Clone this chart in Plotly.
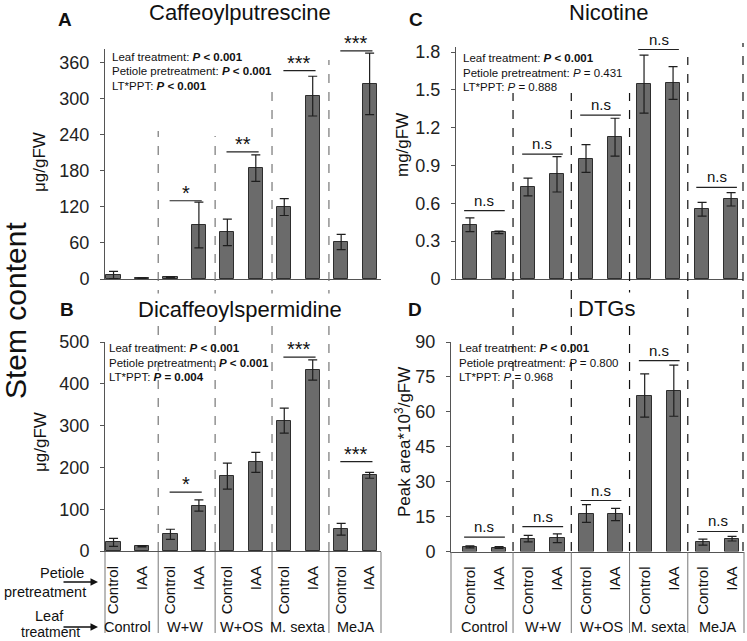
import plotly.graph_objects as go

# groups and bar labels
leaf_treatments = ["Control", "W+W", "W+OS", "M. sexta", "MeJA"]
petiole_pretreatments = ["Control", "IAA"]

# Caffeoylputrescine (ug/gFW)
caff_mean = [6.6, 1.5, 3, 89.6, 77.4, 184, 119.5, 303.7, 61.4, 324]
caff_err = [6, 0.5, 1, 38, 22, 22, 14, 33, 12.7, 51]
caff_sig = ["", "*", "**", "***", "***"]
caff_sig_y = [None, 130, 211, 346, 379]

# Dicaffeoylspermidine (ug/gFW)
dcs_mean = [20.8, 11.2, 40, 108.8, 179, 212, 312, 433, 52, 181]
dcs_err = [9.6, 1.5, 12, 13.6, 31, 24, 30, 24, 14, 7]
dcs_sig = ["", "*", "", "***", "***"]
dcs_sig_y = [None, 141, None, 464, 214]

# Nicotine (mg/gFW)
nic_mean = [0.43, 0.37, 0.73, 0.83, 0.955, 1.125, 1.545, 1.555, 0.553, 0.632]
nic_err = [0.055, 0.01, 0.07, 0.14, 0.11, 0.15, 0.23, 0.13, 0.055, 0.053]
nic_sig = ["n.s"] * 5
nic_sig_y = [0.543, 0.99, 1.30, 1.82, 0.727]

# DTGs (peak area*10^3/gFW)
dtg_mean = [2.0, 1.7, 5.5, 5.7, 16.3, 15.9, 67, 69.1, 4.0, 5.5]
dtg_err = [0.4, 0.4, 1.4, 1.9, 3.8, 2.6, 9.3, 11, 1.3, 1.0]
dtg_sig = ["n.s"] * 5
dtg_sig_y = [6.2, 10.7, 21.9, 82, 8.6]

# two-way ANOVA results
caff_stats = ["<b><i>P</i> &lt; 0.001</b>", "<b><i>P</i> &lt; 0.001</b>", "<b><i>P</i> &lt; 0.001</b>"]
dcs_stats = ["<b><i>P</i> &lt; 0.001</b>", "<b><i>P</i> &lt; 0.001</b>", "<b><i>P</i> = 0.004</b>"]
nic_stats = ["<b><i>P</i> &lt; 0.001</b>", "<i>P</i> = 0.431", "<i>P</i> = 0.888"]
dtg_stats = ["<b><i>P</i> &lt; 0.001</b>", "<i>P</i> = 0.800", "<i>P</i> = 0.968"]
stat_names = ["Leaf treatment: ", "Petiole pretreatment: ", "LT*PPT: "]

W, H = 747, 641
FONT = "Arial, Liberation Sans, sans-serif"


def fx(p):
    return p / W


def fy(p):
    return 1 - p / H


def label(x, y, text, size, **kw):
    # paper-positioned text, pixel coords from top-left
    opts = dict(xanchor="center", yanchor="middle", showarrow=False)
    opts.update(kw)
    fig.add_annotation(x=fx(x), y=fy(y), xref="paper", yref="paper", text=text,
                       font=dict(size=size, color="#111"), **opts)


xpos = list(range(len(leaf_treatments) * 2))
ticktext = petiole_pretreatments * len(leaf_treatments)
group_mid = [2 * g + 0.5 for g in range(len(leaf_treatments))]

fig = go.Figure()

panels = [
    dict(ax="", letter="A", title="Caffeoylputrescine", ytitle="μg/gFW",
         mean=caff_mean, err=caff_err, sig=caff_sig, sig_y=caff_sig_y, stats=caff_stats,
         letter_xy=(65, 20), title_xy=(240, 13), ytitle_xy=(40, 162), stats_xy=(110, 57),
         sig_size=20, sig_off=(-0.03, 0.1)),
    dict(ax="2", letter="B", title="Dicaffeoylspermidine", ytitle="μg/gFW",
         mean=dcs_mean, err=dcs_err, sig=dcs_sig, sig_y=dcs_sig_y, stats=dcs_stats,
         letter_xy=(67, 310), title_xy=(240, 310), ytitle_xy=(40, 442), stats_xy=(107, 348),
         sig_size=20, sig_off=(-0.03, 0.1)),
    dict(ax="3", letter="C", title="Nicotine", ytitle="mg/gFW",
         mean=nic_mean, err=nic_err, sig=nic_sig, sig_y=nic_sig_y, stats=nic_stats,
         letter_xy=(416, 20), title_xy=(608, 13), ytitle_xy=(403, 145), stats_xy=(461, 58),
         sig_size=15, sig_off=(-0.2, 0.2)),
    dict(ax="4", letter="D", title="DTGs", ytitle="Peak area*10<sup>3</sup>/gFW",
         mean=dtg_mean, err=dtg_err, sig=dtg_sig, sig_y=dtg_sig_y, stats=dtg_stats,
         letter_xy=(415, 310), title_xy=(606, 308), ytitle_xy=(403, 442), stats_xy=(457, 348),
         sig_size=15, sig_off=(-0.2, 0.2)),
]

for p in panels:
    xa, ya = "x" + p["ax"], "y" + p["ax"]
    fig.add_trace(go.Bar(
        x=xpos, y=p["mean"], xaxis=xa, yaxis=ya, width=0.5,
        marker=dict(color="#6b6b6b", line=dict(color="#2e2e2e", width=1)),
        error_y=dict(type="data", array=p["err"], color="#1e1e1e", thickness=1.2, width=4.5),
        showlegend=False, hoverinfo="y",
    ))
    # significance bars
    lx, ly = [], []
    for g, (s, lvl) in enumerate(zip(p["sig"], p["sig_y"])):
        if not s:
            continue
        lx += [2 * g + p["sig_off"][0], 2 * g + 1 + p["sig_off"][1], None]
        ly += [lvl, lvl, None]
        fig.add_annotation(x=group_mid[g] + (p["sig_off"][0] + p["sig_off"][1]) / 2, y=lvl,
                           xref=xa, yref=ya, text=s, showarrow=False, xanchor="center",
                           yanchor="bottom", yshift=-5 if "*" in s else 0,
                           font=dict(size=p["sig_size"], color="#111"))
    fig.add_trace(go.Scatter(x=lx, y=ly, xaxis=xa, yaxis=ya, mode="lines",
                             line=dict(color="#222", width=1.2), cliponaxis=False,
                             showlegend=False, hoverinfo="skip"))
    # text (titles sit on white so the dividers break around them)
    label(*p["letter_xy"], "<b>%s</b>" % p["letter"], 19)
    label(*p["title_xy"], p["title"], 22, bgcolor="white", borderpad=3)
    label(*p["ytitle_xy"], p["ytitle"], 17, textangle=-90)
    for i, (name, val) in enumerate(zip(stat_names, p["stats"])):
        label(p["stats_xy"][0], p["stats_xy"][1] + 14.5 * i, name + val, 11.5, xanchor="left")

# group dividers: dashed through both panels, solid in the label table below
ab_div = [2 * g + 1.57 for g in range(4)]
ab_top = [131, 136, 92, 60]
cd_div = [2 * g + 1.48 for g in range(4)]
cd_top = [93, 93, 93, 57]
for xv, top in zip(ab_div, ab_top):
    fig.add_shape(type="line", xref="x2", yref="paper", x0=xv, x1=xv, y0=fy(551), y1=fy(top),
                  line=dict(color="#777", width=1.2, dash="dash"))
for xv, top in zip(cd_div, cd_top):
    fig.add_shape(type="line", xref="x4", yref="paper", x0=xv, x1=xv, y0=fy(551), y1=fy(top),
                  line=dict(color="#111", width=1.2, dash="dash"))
fig.add_shape(type="line", xref="x3 domain", yref="paper", x0=1, x1=1, y0=fy(551), y1=fy(43),
              line=dict(color="#111", width=1.2, dash="dash"))

for xr, divs in (("x2", ab_div), ("x4", cd_div)):
    for xv in divs:
        fig.add_shape(type="line", xref=xr, yref="paper", x0=xv, x1=xv, y0=fy(552), y1=fy(633),
                      line=dict(color="#777", width=1))
    for xv in (0, 1):
        fig.add_shape(type="line", xref=xr + " domain", yref="paper", x0=xv, x1=xv, y0=fy(552), y1=fy(633),
                      line=dict(color="#777", width=1))
    for g, lt in enumerate(leaf_treatments):
        fig.add_annotation(x=group_mid[g], y=fy(627), xref=xr, yref="paper", text=lt,
                           xanchor="center", yanchor="middle",
                           showarrow=False, font=dict(size=14.5, color="#111"))

# row labels with arrows
label(86, 573, "Petiole", 14.5, xanchor="right")
label(88, 592, "pretreatment", 14.5, xanchor="right")
label(49, 616, "Leaf", 14.5)
label(50, 632, "treatment", 14)
for yy in (582, 627):
    fig.add_annotation(x=fx(98), y=fy(yy), xref="paper", yref="paper", ax=-36, ay=0, text="",
                       showarrow=True, arrowhead=2, arrowsize=1, arrowwidth=1.5, arrowcolor="#111")

label(15, 311, "Stem content", 30, textangle=-90)


def yaxis(anchor, top, bottom, rng, dtick):
    return dict(anchor=anchor, domain=[fy(bottom), fy(top)], range=rng, tickmode="linear", tick0=0,
                dtick=dtick, showline=True, linecolor="#555", linewidth=1, ticks="outside", ticklen=4,
                tickcolor="#555", tickfont=dict(size=18, color="#222"), ticklabelstandoff=7,
                showgrid=False, zeroline=False, fixedrange=True, automargin=False)


def xaxis(anchor, left, right, rng, labels):
    return dict(anchor=anchor, domain=[fx(left), fx(right)], range=rng, tickmode="array",
                tickvals=xpos, ticktext=ticktext, showticklabels=labels, tickangle=-90,
                tickfont=dict(size=15, color="#111"), ticklabelstandoff=8, ticks="",
                showline=True, linecolor="#555", linewidth=1, showgrid=False, zeroline=False,
                fixedrange=True, automargin=False)


# ranges reach a little past the top tick so the top significance bars stay visible
fig.update_layout(
    width=W, height=H, margin=dict(l=0, r=0, t=0, b=0, autoexpand=False),
    plot_bgcolor="white", paper_bgcolor="white",
    font=dict(family=FONT, color="#111"),
    showlegend=False, bargap=0,
    xaxis=xaxis("y", 105, 381, [-0.3, 9.4], False),
    yaxis=yaxis("x", 49, 279, [0, 382], 60),
    xaxis2=xaxis("y2", 105, 381, [-0.3, 9.4], True),
    yaxis2=yaxis("x2", 342, 551, [0, 500], 100),
    xaxis3=xaxis("y3", 456, 743, [-0.48, 9.41], False),
    yaxis3=yaxis("x3", 47, 279, [0, 1.84], 0.3),
    xaxis4=xaxis("y4", 451, 744, [-0.65, 9.41], True),
    yaxis4=yaxis("x4", 342, 551.5, [0, 90], 15),
)

# page body has a default margin; drop it so the figure sits at the window origin
fig.write_html("out.html", post_script="document.body.style.margin='0';",
               config={"displayModeBar": False})
